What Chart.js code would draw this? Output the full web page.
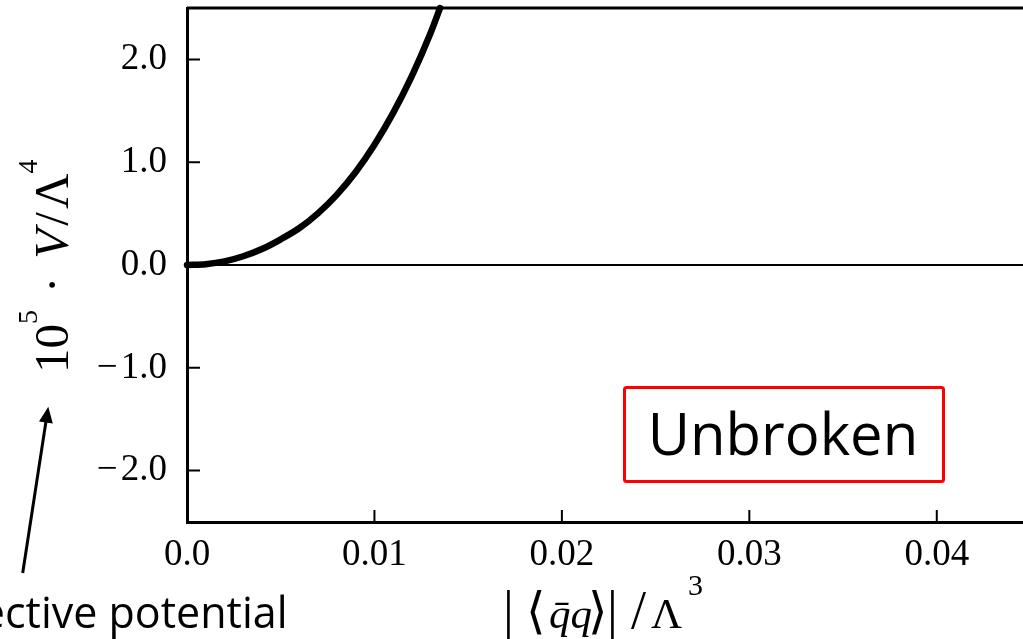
<!DOCTYPE html>
<html>
<head>
<meta charset="utf-8">
<script src="https://cdn.jsdelivr.net/npm/chart.js@4.4.1/dist/chart.umd.min.js"></script>
<style>
  html, body { margin: 0; padding: 0; background: #fff; overflow: hidden; }
  #wrap { position: relative; width: 1023px; height: 639px; }
  #grafico { position: absolute; left: 0; top: 0; }
  svg { position: absolute; left: 0; top: 0; }
  .serif { font-family: "Liberation Serif", "DejaVu Serif", serif; }
  .sans { font-family: "Open Sans", "Noto Sans", sans-serif; }
</style>
</head>
<body>
<div id="wrap">
  <canvas id="grafico" width="1023" height="639"></canvas>
  <svg width="1023" height="639">
    <!-- título do eixo y -->
    <text class="serif" transform="translate(68,373) rotate(-90)" font-size="49" fill="#000">10<tspan font-size="28" dy="-31">5</tspan><tspan dy="31" dx="17">·</tspan><tspan font-style="italic" dx="18">V</tspan><tspan dx="3">/</tspan><tspan dx="3">Λ</tspan><tspan font-size="28" dy="-31">4</tspan></text>
    <!-- título do eixo x -->
    <text class="serif" y="628" font-size="43" fill="#000"><tspan x="503" font-size="54">|</tspan><tspan x="526" font-size="50">⟨</tspan><tspan x="549" font-style="italic">q̄q</tspan><tspan x="588" font-size="50">⟩</tspan><tspan x="607" font-size="54">|</tspan><tspan x="631" font-size="54">/</tspan><tspan x="651">Λ</tspan><tspan x="688" y="595" font-size="30">3</tspan></text>
    <rect x="624.5" y="387.5" width="319" height="94" fill="none" stroke="#ff0000" stroke-width="3" rx="2"/>
    <text class="sans" x="783" y="455" text-anchor="middle" font-size="58" fill="#000">Unbroken</text>
    <line x1="22.7" y1="573" x2="46.5" y2="418" stroke="#000" stroke-width="3"/>
    <polygon points="48.3,406.7 52.8,423.6 39.0,421.4" fill="#000"/>
    <text class="sans" x="-72" y="628" font-size="43" fill="#000">Effective potential</text>
  </svg>
</div>
<script>
// potencial efetivo (fase não quebrada)
const potX = [0, 0.001, 0.002, 0.003, 0.004, 0.005, 0.006, 0.007, 0.008, 0.009, 0.010, 0.011, 0.012, 0.013, 0.0135];
const potY = [0, 0.008, 0.035, 0.085, 0.155, 0.25, 0.36, 0.505, 0.685, 0.905, 1.17, 1.48, 1.84, 2.26, 2.5];

const xTicks = [0, 0.01, 0.02, 0.03, 0.04];
const yTicks = [-2, -1, 0, 1, 2];
const xMin = 0, xMax = 0.0446;
const yMin = -2.5, yMax = 2.5;

const fonteTicks = { family: '"Liberation Serif", "DejaVu Serif", serif', size: 37 };

// moldura superior e ticks para dentro
const moldura = {
  id: 'moldura',
  afterDraw(chart) {
    const { ctx, chartArea: a, scales: { x, y } } = chart;
    ctx.save();
    ctx.strokeStyle = '#000';
    ctx.lineWidth = 3;
    ctx.beginPath();
    ctx.moveTo(a.left, a.top);
    ctx.lineTo(a.right, a.top);
    ctx.stroke();
    ctx.lineWidth = 2;
    ctx.beginPath();
    x.ticks.forEach(t => {
      const px = x.getPixelForValue(t.value);
      ctx.moveTo(px, a.bottom);
      ctx.lineTo(px, a.bottom - 12);
    });
    y.ticks.forEach(t => {
      const py = y.getPixelForValue(t.value);
      ctx.moveTo(a.left, py);
      ctx.lineTo(a.left + 13, py);
    });
    ctx.stroke();
    ctx.restore();
  }
};

const ctx = document.getElementById('grafico').getContext('2d');
const chart = new Chart(ctx, {
  type: 'line',
  data: {
    datasets: [{
      data: potX.map((x, i) => ({ x: x, y: potY[i] })),
      borderColor: '#000',
      borderWidth: 6.5,
      borderCapStyle: 'round',
      borderJoinStyle: 'round',
      cubicInterpolationMode: 'monotone',
      pointRadius: 0,
      fill: false,
      clip: false
    }]
  },
  options: {
    responsive: false,
    animation: false,
    devicePixelRatio: 1,
    layout: { padding: { top: 8, right: 0, bottom: 0, left: 0 } },
    plugins: { legend: { display: false }, tooltip: { enabled: false } },
    scales: {
      x: {
        type: 'linear',
        min: xMin,
        max: xMax,
        afterBuildTicks: (s) => { s.ticks = xTicks.map(v => ({ value: v })); },
        afterFit: (s) => { s.height = 117; s.paddingLeft = 0; s.paddingRight = 0; },
        ticks: {
          color: '#000',
          font: fonteTicks,
          padding: 11,
          maxRotation: 0,
          autoSkip: false,
          callback: (v) => v === 0 ? '0.0' : v.toFixed(2)
        },
        grid: { display: false, drawTicks: false },
        border: { display: true, color: '#000', width: 3 }
      },
      y: {
        type: 'linear',
        min: yMin,
        max: yMax,
        afterBuildTicks: (s) => { s.ticks = yTicks.map(v => ({ value: v })); },
        afterFit: (s) => { s.width = 187; s.paddingTop = 0; s.paddingBottom = 0; },
        ticks: {
          color: '#000',
          font: fonteTicks,
          padding: 20,
          autoSkip: false,
          callback: (v) => (v < 0 ? '\u2212\u200a' : '') + Math.abs(v).toFixed(1)
        },
        grid: {
          drawTicks: false,
          color: (c) => c.tick && c.tick.value === 0 ? '#000' : 'rgba(0,0,0,0)',
          lineWidth: (c) => c.tick && c.tick.value === 0 ? 2 : 0
        },
        border: { display: true, color: '#000', width: 3 }
      }
    }
  },
  plugins: [moldura]
});
</script>
</body>
</html>
